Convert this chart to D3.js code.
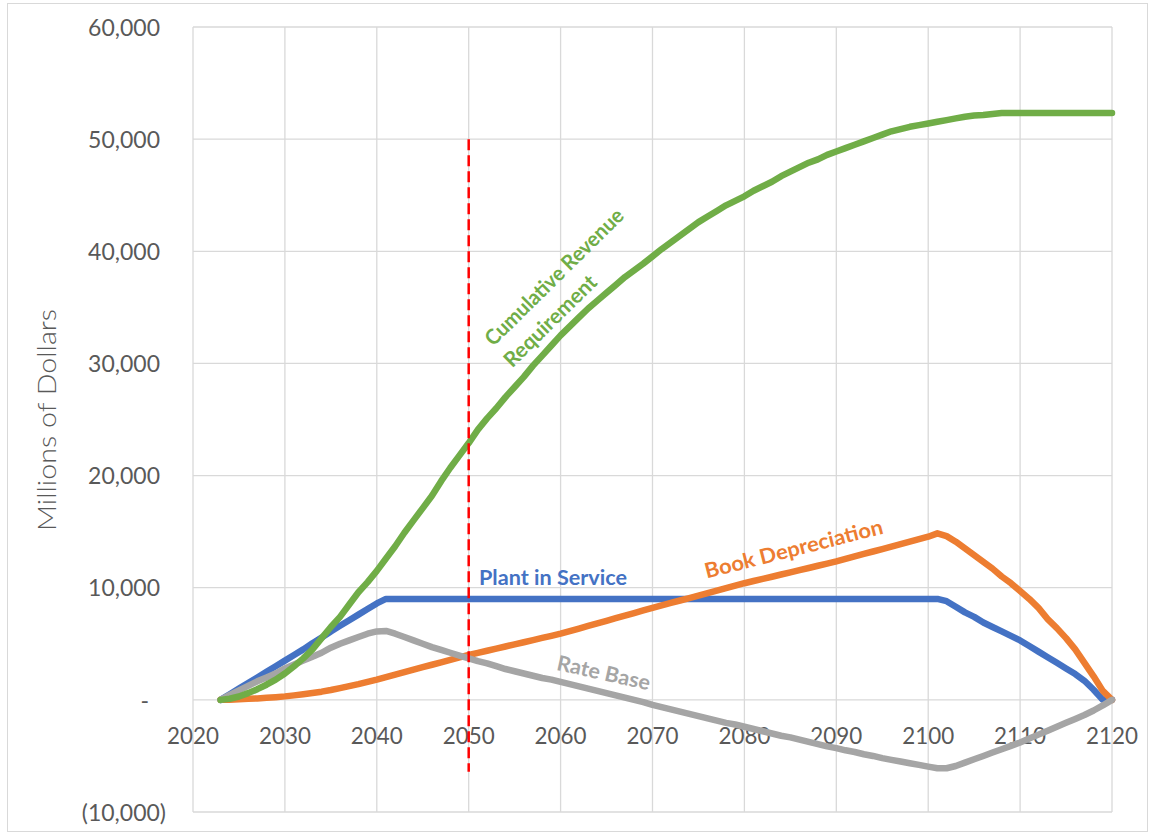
<!DOCTYPE html>
<html>
<head>
<meta charset="utf-8">
<script src="https://cdn.jsdelivr.net/npm/d3@7/dist/d3.min.js"></script>
<style>
  html, body { margin: 0; padding: 0; background: #fff; }
  svg { display: block; }
</style>
</head>
<body>
<svg id="chart" width="1154" height="835"></svg>
<script>
// ---------------- DATA ----------------
const years = d3.range(2023, 2121);

const plantInService = [
  0,500,1000,1500,2000,2500,3000,
  3500,4000,4500,5050,5550,6100,6600,7100,7600,8100,
  8600,9000,9000,9000,9000,9000,9000,9000,9000,9000,
  9000,9000,9000,9000,9000,9000,9000,9000,9000,9000,
  9000,9000,9000,9000,9000,9000,9000,9000,9000,9000,
  9000,9000,9000,9000,9000,9000,9000,9000,9000,9000,
  9000,9000,9000,9000,9000,9000,9000,9000,9000,9000,
  9000,9000,9000,9000,9000,9000,9000,9000,9000,9000,
  9000,9000,8800,8300,7800,7400,6900,6500,6100,5700,
  5300,4800,4300,3800,3300,2800,2300,1700,900,0,
  0
];

const bookDepreciation = [
  0,20,50,90,130,180,240,
  310,400,500,610,730,880,1050,1220,1400,1600,
  1800,2030,2250,2470,2690,2910,3130,3350,3570,3790,
  4000,4190,4380,4570,4760,4950,5140,5330,5520,5710,
  5900,6130,6360,6590,6820,7050,7280,7510,7740,7970,
  8200,8420,8640,8860,9080,9300,9520,9740,9960,10180,
  10400,10600,10790,10980,11180,11370,11570,11760,11960,12150,
  12350,12570,12790,13010,13230,13450,13670,13890,14110,14330,
  14550,14850,14600,14100,13500,12900,12300,11700,11000,10400,
  9700,9000,8200,7200,6400,5500,4500,3300,2100,800,
  0
];

const rateBase = [
  0,450,850,1250,1650,2000,2350,
  2800,3150,3500,3850,4200,4650,5000,5300,5600,5900,
  6100,6150,5900,5600,5300,5000,4700,4450,4200,3950,
  3700,3450,3250,3000,2750,2550,2350,2150,1950,1800,
  1600,1400,1200,1000,800,600,400,200,0,-200,
  -450,-650,-850,-1050,-1250,-1450,-1650,-1850,-2050,-2200,
  -2400,-2600,-2800,-3000,-3200,-3350,-3550,-3750,-3950,-4150,
  -4300,-4500,-4650,-4850,-5000,-5200,-5350,-5500,-5650,-5800,
  -5950,-6100,-6100,-5900,-5600,-5300,-5000,-4700,-4400,-4100,
  -3800,-3450,-3100,-2750,-2400,-2050,-1700,-1350,-950,-500,
  0
];

const cumulativeRevenue = [
  0,100,300,600,950,1350,1800,
  2350,3000,3700,4500,5500,6500,7400,8500,9600,10500,
  11500,12600,13700,14900,16000,17100,18200,19500,20700,21800,
  22900,24100,25100,26000,27000,27900,28800,29800,30700,31600,
  32500,33300,34100,34900,35600,36300,37000,37700,38300,38900,
  39550,40200,40800,41400,42000,42600,43100,43600,44100,44500,
  44900,45400,45800,46200,46700,47100,47500,47900,48200,48600,
  48900,49200,49500,49800,50100,50400,50700,50900,51100,51250,
  51400,51550,51700,51850,52000,52100,52150,52250,52330,52330,
  52330,52330,52330,52330,52330,52330,52330,52330,52330,52330,
  52330
];

const xTicks = [2020,2030,2040,2050,2060,2070,2080,2090,2100,2110,2120];
const yTicks = [-10000,0,10000,20000,30000,40000,50000,60000];
const yTickLabels = ["(10,000)","-","10,000","20,000","30,000","40,000","50,000","60,000"];

const markerYear = 2050;
const markerRange = [50000, -6400];

const seriesNames = ["Plant in Service","Book Depreciation","Rate Base","Cumulative Revenue Requirement"];
const seriesColors = ["#4472C4","#ED7D31","#A5A5A5","#70AD47"];
const yAxisTitle = "Millions of Dollars";

// ---------------- CHART ----------------
const svg = d3.select("#chart");
const FONT = "Lato, 'Open Sans', 'DejaVu Sans', sans-serif";

svg.append("rect").attr("x",0).attr("y",0).attr("width",1154).attr("height",835).attr("fill","#fff");
svg.append("rect").attr("x",7.5).attr("y",3.5).attr("width",1140).attr("height",828)
  .attr("fill","none").attr("stroke","#d9d9d9").attr("stroke-width",1);

const x = d3.scaleLinear().domain([2020, 2120]).range([193, 1112]);
const y = d3.scaleLinear().domain([-10000, 60000]).range([812, 27]);

// gridlines
const grid = svg.append("g");
grid.selectAll("line.h").data(yTicks).join("line")
  .attr("x1", x(2020)).attr("x2", x(2120))
  .attr("y1", d => y(d)).attr("y2", d => y(d))
  .attr("stroke", "#d9d9d9").attr("stroke-width", 1.3);
grid.selectAll("line.v").data(xTicks).join("line")
  .attr("x1", d => x(d)).attr("x2", d => x(d))
  .attr("y1", y(60000)).attr("y2", y(-10000))
  .attr("stroke", "#d9d9d9").attr("stroke-width", 1.3);

function measure(text, size, weight) {
  const t = svg.append("text").attr("font-family", FONT).attr("font-size", size)
    .attr("font-weight", weight || "normal").text(text);
  const w = t.node().getComputedTextLength();
  t.remove();
  return w;
}

// y tick labels (horizontally condensed to mimic the narrow original font)
const TICK_FS = 24;
const ySx = 72 / measure("60,000", TICK_FS);
svg.append("g").selectAll("text").data(yTicks).join("text")
  .attr("transform", d => `translate(${d < 0 ? 166 : (d === 0 ? 149 : 160)},${y(d)}) scale(${ySx},1)`)
  .attr("dy", "0.36em")
  .attr("text-anchor", "end")
  .attr("font-family", FONT).attr("font-size", TICK_FS)
  .attr("fill", "#595959")
  .text((d,i) => yTickLabels[i]);

// x tick labels
const xSx = 52 / measure("2030", TICK_FS);
svg.append("g").selectAll("text").data(xTicks).join("text")
  .attr("transform", d => `translate(${x(d)},${y(0) + 36}) scale(${xSx},1)`)
  .attr("dy", "0.36em")
  .attr("text-anchor", "middle")
  .attr("font-family", FONT).attr("font-size", TICK_FS)
  .attr("fill", "#595959")
  .text(d => d);

// y axis title
svg.append("text")
  .attr("transform", "translate(47,420) rotate(-90)")
  .attr("text-anchor", "middle").attr("dy", "0.36em")
  .attr("font-family", FONT).attr("font-size", 25).attr("font-weight", 300)
  .attr("textLength", 222).attr("lengthAdjust", "spacingAndGlyphs")
  .attr("fill", "#595959")
  .text(yAxisTitle);

// lines
const allSeries = [plantInService, bookDepreciation, rateBase, cumulativeRevenue];
const line = d3.line().x((d,i) => x(years[i])).y(d => y(d));
svg.append("g").selectAll("path").data(allSeries).join("path")
  .attr("d", d => line(d))
  .attr("fill", "none")
  .attr("stroke", (d,i) => seriesColors[i])
  .attr("stroke-width", 6.5)
  .attr("stroke-linejoin", "round")
  .attr("stroke-linecap", "round");

// marker dashed line
svg.append("line")
  .attr("x1", x(markerYear)).attr("x2", x(markerYear))
  .attr("y1", y(markerRange[0])).attr("y2", y(markerRange[1]))
  .attr("stroke", "#FF0000").attr("stroke-width", 2.5)
  .attr("stroke-dasharray", "11,5");

// series labels
function label(text, color, cx, cy, angle, target, anchor, baseline) {
  svg.append("text")
    .attr("transform", `translate(${cx},${cy}) rotate(${angle})`)
    .attr("text-anchor", anchor)
    .attr("dy", baseline === "middle" ? "0.36em" : 0)
    .attr("font-family", FONT).attr("font-size", 21).attr("font-weight", "bold")
    .attr("textLength", target).attr("lengthAdjust", "spacingAndGlyphs")
    .attr("fill", color)
    .text(text);
}
label("Plant in Service", seriesColors[0], 479, 585, 0, 148, "start", "alpha");
label("Book Depreciation", seriesColors[1], 795.5, 556, -14.3, 183, "middle", "alpha");
label("Rate Base", seriesColors[2], 602, 680, 12.6, 95, "middle", "alpha");
label("Cumulative Revenue", seriesColors[3], 554, 276.7, -44.5, 185, "middle", "middle");
label("Requirement", seriesColors[3], 550, 320.7, -44.5, 121, "middle", "middle");
</script>
</body>
</html>
